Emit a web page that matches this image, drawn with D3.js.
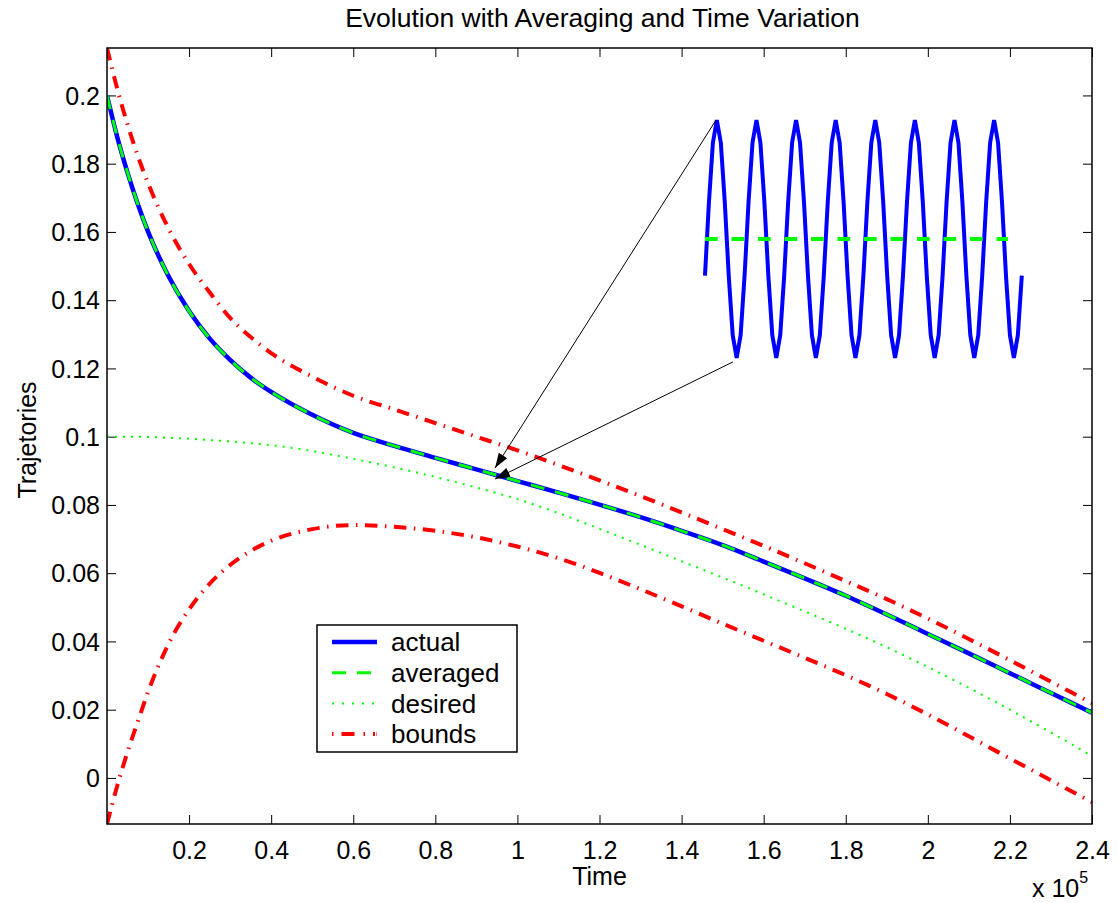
<!DOCTYPE html>
<html>
<head>
<meta charset="utf-8">
<script src="https://cdn.jsdelivr.net/npm/d3@7"></script>
<style>
  body { margin: 0; background: #fff; }
  svg text { font-family: "Liberation Sans", Arial, sans-serif; fill: #000; }
</style>
</head>
<body>
<div class="chart"></div>
<script>
'use strict';

// time in units of 1e5
var time = [0, 0.025, 0.05, 0.075, 0.1, 0.15, 0.2, 0.25, 0.3, 0.35, 0.4, 0.5, 0.6, 0.7, 0.8, 0.9,
  1.0, 1.1, 1.2, 1.3, 1.4, 1.5, 1.6, 1.7, 1.8, 1.9, 2.0, 2.1, 2.2, 2.3, 2.4];

var actual = [0.2000, 0.1878, 0.1774, 0.1682, 0.1601, 0.1470, 0.1368, 0.1288, 0.1225, 0.1173, 0.1131,
  0.1064, 0.1011, 0.0973, 0.0938, 0.0904, 0.0870, 0.0836, 0.0801, 0.0764, 0.0724, 0.0682, 0.0634,
  0.0585, 0.0534, 0.0479, 0.0422, 0.0365, 0.0307, 0.0249, 0.0191];

var averaged = [0.2000, 0.1878, 0.1774, 0.1682, 0.1601, 0.1470, 0.1368, 0.1288, 0.1225, 0.1173, 0.1131,
  0.1064, 0.1011, 0.0973, 0.0938, 0.0904, 0.0870, 0.0836, 0.0801, 0.0764, 0.0724, 0.0682, 0.0634,
  0.0585, 0.0534, 0.0479, 0.0422, 0.0365, 0.0307, 0.0249, 0.0191];

var desired = [0.1000, 0.1000, 0.1000, 0.1000, 0.0999, 0.0997, 0.0994, 0.0990, 0.0986, 0.0981, 0.0975,
  0.0958, 0.0935, 0.0910, 0.0882, 0.0851, 0.0817, 0.0776, 0.0730, 0.0683, 0.0635, 0.0587, 0.0538,
  0.0488, 0.0437, 0.0383, 0.0325, 0.0264, 0.0200, 0.0133, 0.0064];

var upperBound = [0.2139, 0.2019, 0.1915, 0.1823, 0.1743, 0.1610, 0.1506, 0.1423, 0.1348, 0.1292, 0.1245,
  0.1176, 0.1120, 0.1080, 0.1040, 0.1000, 0.0960, 0.0917, 0.0872, 0.0826, 0.0778, 0.0729, 0.0680,
  0.0629, 0.0577, 0.0524, 0.0467, 0.0407, 0.0345, 0.0282, 0.0219];

var lowerBound = [-0.0135, -0.0023, 0.0076, 0.0165, 0.0252, 0.0393, 0.0494, 0.0569, 0.0624, 0.0665, 0.0695,
  0.0729, 0.0741, 0.0736, 0.0724, 0.0705, 0.0678, 0.0644, 0.0601, 0.0553, 0.0503, 0.0452, 0.0402,
  0.0352, 0.0301, 0.0246, 0.0186, 0.0122, 0.0057, -0.0007, -0.0071];

var xTicks = [0.2, 0.4, 0.6, 0.8, 1, 1.2, 1.4, 1.6, 1.8, 2, 2.2, 2.4];
var yTicks = [0, 0.02, 0.04, 0.06, 0.08, 0.1, 0.12, 0.14, 0.16, 0.18, 0.2];

// zoomed inset: the oscillation, ten samples per period, amplitude normalised
var insetWave = [-0.309, 0.309, 0.809,
  1, 0.809, 0.309, -0.309, -0.809, -1, -0.809, -0.309, 0.309, 0.809,
  1, 0.809, 0.309, -0.309, -0.809, -1, -0.809, -0.309, 0.309, 0.809,
  1, 0.809, 0.309, -0.309, -0.809, -1, -0.809, -0.309, 0.309, 0.809,
  1, 0.809, 0.309, -0.309, -0.809, -1, -0.809, -0.309, 0.309, 0.809,
  1, 0.809, 0.309, -0.309, -0.809, -1, -0.809, -0.309, 0.309, 0.809,
  1, 0.809, 0.309, -0.309, -0.809, -1, -0.809, -0.309, 0.309, 0.809,
  1, 0.809, 0.309, -0.309, -0.809, -1, -0.809, -0.309, 0.309, 0.809,
  1, 0.809, 0.309, -0.309, -0.809, -1, -0.809, -0.309];
var insetAvgSample = [0, 76.5];
var insetAvg = [0, 0];
// where the inset sits, in data units
var insetTime = [1.457, 2.229];
var insetValue = [0.1231, 0.1928];

// arrows [tail time, tail value, tip time, tip value]
var arrows = [[1.484, 0.1928, 0.9454, 0.0908], [1.525, 0.1219, 0.9454, 0.0876]];

var legendNames = ['actual', 'averaged', 'desired', 'bounds'];

var margin = { top: 48, right: 26, bottom: 79, left: 107 };
var width = 1118 - margin.left - margin.right;
var height = 903 - margin.top - margin.bottom;

var styles = {
  actual: { stroke: '#0000ff', width: 4.5, dash: null },
  averaged: { stroke: '#00ff00', width: 3, dash: '14,11' },
  desired: { stroke: '#00ff00', width: 2, dash: '2,6' },
  bounds: { stroke: '#ff0000', width: 4, dash: '12.5,7.5,1.5,7.5' }
};

var x = d3.scaleLinear().domain([0, 2.4]).range([0, width]);
var y = d3.scaleLinear().domain([d3.min(lowerBound), d3.max(upperBound)]).range([height, 0]);

var svg = d3.select('.chart').append('svg')
  .attr('width', 1118).attr('height', 903)
  .style('background', '#fff');

var defs = svg.append('defs');
defs.append('clipPath').attr('id', 'clip').append('rect').attr('width', width).attr('height', height);
defs.append('marker').attr('id', 'arrowhead')
  .attr('markerUnits', 'userSpaceOnUse')
  .attr('viewBox', '0 0 15 10').attr('refX', 15).attr('refY', 5)
  .attr('markerWidth', 15).attr('markerHeight', 10)
  .attr('orient', 'auto')
  .append('path').attr('d', 'M0,0L15,5L0,10Z').attr('fill', '#000');

var g = svg.append('g').attr('transform', 'translate(' + margin.left + ',' + margin.top + ')');

var fmt = function (d) { return String(+d.toFixed(2)); };

// axes: MATLAB style, ticks pointing inward on all four sides
var xAxis = d3.axisBottom(x).tickValues(xTicks).tickSize(-9).tickPadding(17).tickFormat(fmt);
var yAxis = d3.axisLeft(y).tickValues(yTicks).tickSize(-9).tickPadding(7).tickFormat(fmt);

var xg = g.append('g').attr('transform', 'translate(0,' + height + ')').call(xAxis);
var yg = g.append('g').call(yAxis);
g.append('g').call(d3.axisTop(x).tickValues(xTicks).tickSize(-9).tickFormat(''));
g.append('g').attr('transform', 'translate(' + width + ',0)')
  .call(d3.axisRight(y).tickValues(yTicks).tickSize(-9).tickFormat(''));

g.selectAll('.domain').remove();
g.selectAll('.tick line').attr('stroke', '#000').attr('stroke-width', 1);
g.selectAll('.tick text').style('font-size', '25px').attr('fill', '#000');
xg.selectAll('.tick text').attr('dy', '0.71em');
yg.selectAll('.tick text').attr('dy', '0.35em');

var plot = g.append('g').attr('clip-path', 'url(#clip)');

var line = d3.line()
  .x(function (d) { return x(d[0]); })
  .y(function (d) { return y(d[1]); })
  .curve(d3.curveMonotoneX);

var series = [
  { key: 'desired', values: desired },
  { key: 'bounds', values: upperBound },
  { key: 'bounds', values: lowerBound },
  { key: 'actual', values: actual },
  { key: 'averaged', values: averaged }
];

series.forEach(function (s) {
  var st = styles[s.key];
  plot.append('path')
    .datum(d3.zip(time, s.values))
    .attr('d', line)
    .attr('fill', 'none')
    .attr('stroke', st.stroke)
    .attr('stroke-width', st.width)
    .attr('stroke-dasharray', st.dash);
});

// inset with its own scales; x is the sample number
var ix = d3.scaleLinear().domain([0, insetWave.length - 1]).range(insetTime.map(x));
var iy = d3.scaleLinear().domain([-1, 1]).range(insetValue.map(y));
var iline = d3.line()
  .x(function (d) { return ix(d[0]); })
  .y(function (d) { return iy(d[1]); });

g.append('path')
  .datum(insetWave.map(function (v, i) { return [i, v]; }))
  .attr('d', iline)
  .attr('fill', 'none')
  .attr('stroke', '#0000ff')
  .attr('stroke-width', 4);

g.append('path')
  .datum(d3.zip(insetAvgSample, insetAvg))
  .attr('d', iline)
  .attr('fill', 'none')
  .attr('stroke', '#00ff00')
  .attr('stroke-width', 4)
  .attr('stroke-dasharray', '12.7,13.8');

// arrows from inset to curve
g.selectAll('line.arrow').data(arrows).enter().append('line')
  .attr('class', 'arrow')
  .attr('x1', function (d) { return x(d[0]); })
  .attr('y1', function (d) { return y(d[1]); })
  .attr('x2', function (d) { return x(d[2]); })
  .attr('y2', function (d) { return y(d[3]); })
  .attr('stroke', '#000')
  .attr('stroke-width', 1)
  .attr('marker-end', 'url(#arrowhead)');

// box
g.append('rect').attr('width', width).attr('height', height)
  .attr('fill', 'none').attr('stroke', '#000').attr('stroke-width', 1.5);

// legend
var legend = g.append('g').attr('transform', 'translate(' + (317 - margin.left) + ',' + (625 - margin.top) + ')');
legend.append('rect').attr('width', 200).attr('height', 127)
  .attr('fill', '#fff').attr('stroke', '#000').attr('stroke-width', 1.5);

var rows = legend.selectAll('g.row').data(legendNames).enter().append('g')
  .attr('class', 'row')
  .attr('transform', function (d, i) { return 'translate(0,' + (17 + i * 30.7) + ')'; });

rows.append('line')
  .attr('x1', 15).attr('x2', 60)
  .attr('stroke', function (d) { return styles[d].stroke; })
  .attr('stroke-width', function (d) { return styles[d].width; })
  .attr('stroke-dasharray', function (d) {
    return d === 'bounds' ? '1.5,8,13,9,1.5,8,2' : (d === 'desired' ? '2,8' : styles[d].dash);
  });

rows.append('text')
  .attr('x', 74).attr('dy', '0.35em')
  .style('font-size', '26px')
  .text(function (d) { return d; });

// title and labels
svg.append('text')
  .attr('x', margin.left + width / 2 + 3).attr('y', 27)
  .attr('text-anchor', 'middle').style('font-size', '26.5px')
  .text('Evolution with Averaging and Time Variation');

svg.append('text')
  .attr('x', margin.left + width / 2).attr('y', 885)
  .attr('text-anchor', 'middle').style('font-size', '25px')
  .text('Time');

svg.append('text')
  .attr('transform', 'translate(36,' + (margin.top + height / 2 + 4) + ') rotate(-90)')
  .attr('text-anchor', 'middle').style('font-size', '25px')
  .text('Trajetories');

var expo = svg.append('text').attr('x', 1032).attr('y', 897).style('font-size', '25px');
expo.append('tspan').text('x 10');
expo.append('tspan').attr('dy', -14).style('font-size', '16px').text('5');
</script>
</body>
</html>
